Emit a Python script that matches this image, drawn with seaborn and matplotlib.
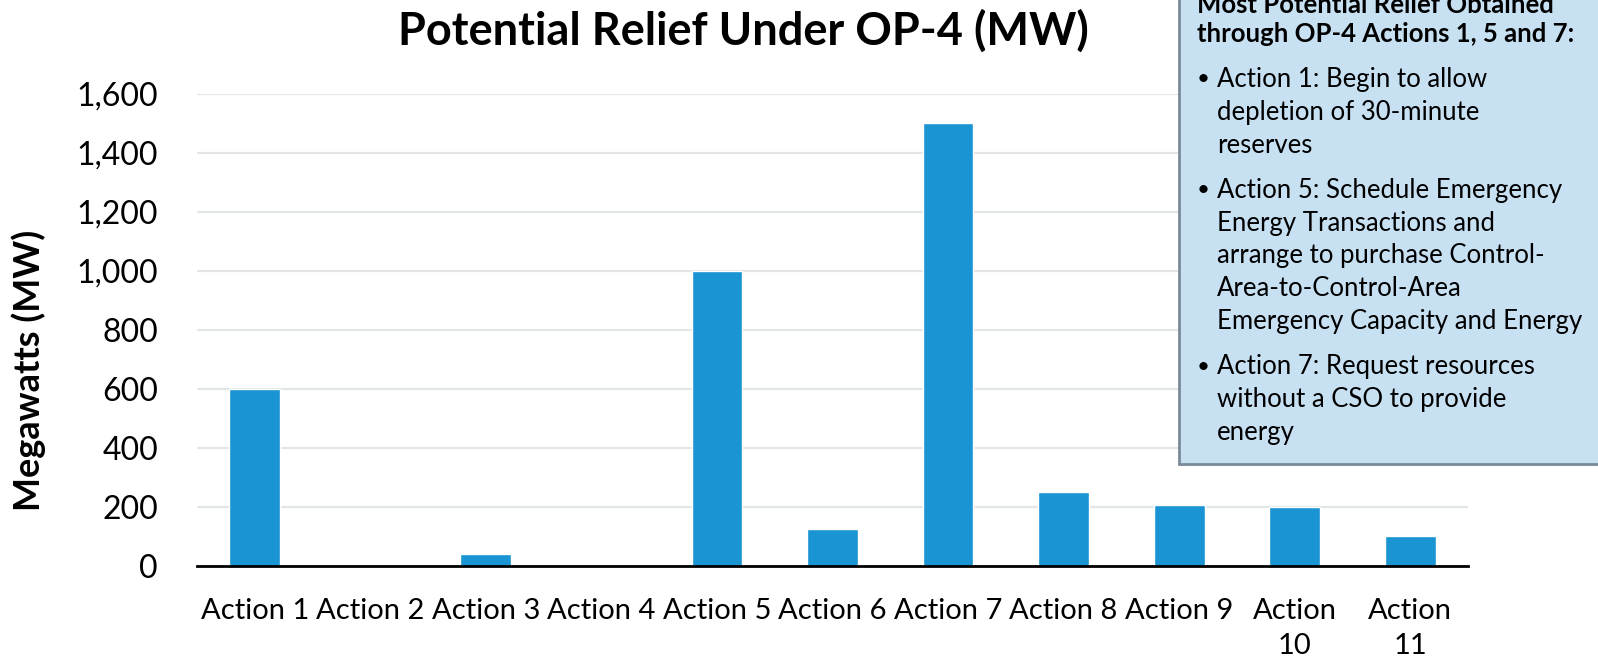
import numpy as np
import pandas as pd
import matplotlib
matplotlib.use("Agg")
import matplotlib.pyplot as plt
from matplotlib.patches import Rectangle
from matplotlib.ticker import FuncFormatter
import seaborn as sns

# data
actions = ["Action 1", "Action 2", "Action 3", "Action 4", "Action 5", "Action 6",
           "Action 7", "Action 8", "Action 9", "Action 10", "Action 11"]
relief_mw = [600, 0, 40, 0, 1000, 125, 1500, 250, 205, 200, 100]
tick_labels = ["Action 1", "Action 2", "Action 3", "Action 4", "Action 5", "Action 6",
               "Action 7", "Action 8", "Action 9", "Action\n10", "Action\n11"]
y_ticks = [0, 200, 400, 600, 800, 1000, 1200, 1400, 1600]

box_header = ["Most Potential Relief Obtained", "through OP-4 Actions 1, 5 and 7:"]
box_bullets = [
    ["Action 1: Begin to allow", "depletion of 30-minute", "reserves"],
    ["Action 5: Schedule Emergency", "Energy Transactions and",
     "arrange to purchase Control-", "Area-to-Control-Area",
     "Emergency Capacity and Energy"],
    ["Action 7: Request resources", "without a CSO to provide", "energy"],
]

df = pd.DataFrame({"action": actions, "mw": relief_mw})

sns.set_style("white")
plt.rcParams['font.family'] = ['Lato', 'DejaVu Sans']
plt.rcParams['text.color'] = 'black'
plt.rcParams['xtick.color'] = 'black'
plt.rcParams['ytick.color'] = 'black'
plt.rcParams['axes.labelcolor'] = 'black'

W, H = 1598, 659
fig = plt.figure(figsize=(W / 100, H / 100), dpi=100)
ax = fig.add_axes([197 / W, 1 - 565.7 / H, (1468 - 197) / W, (565.7 - 93.8) / H])

bar_color = "#1A94D2"
sns.barplot(data=df, x="action", y="mw", color=bar_color, width=0.44,
            saturation=1, ax=ax, zorder=3)

ax.set_ylim(0, 1600)
ax.set_xlim(-0.5, len(actions) - 0.5)
ax.set_yticks(y_ticks)
ax.yaxis.set_major_formatter(FuncFormatter(lambda v, p: f"{int(v):,}"))
ax.set_xticks(range(len(actions)))
ax.set_xticklabels(tick_labels, linespacing=1.45)
ax.grid(axis="y", color="#E3E6E8", linewidth=1.6, zorder=0)
ax.grid(axis="x", visible=False)
for s in ["top", "right", "left"]:
    ax.spines[s].set_visible(False)
ax.spines["bottom"].set_color("black")
ax.spines["bottom"].set_linewidth(2)
ax.spines["bottom"].set_zorder(4)
ax.tick_params(axis="x", length=0, pad=23, labelsize=21)
ax.tick_params(axis="y", length=0, pad=28, labelsize=23)
ax.set_xlabel("")
ax.set_ylabel("Megawatts (MW)", fontsize=26, fontweight="bold")
ax.yaxis.set_label_coords(-0.119, 0.414)

fig.text(0.465, 1 - 31 / H, "Potential Relief Under OP-4 (MW)", ha="center",
         va="center", fontsize=32.5, fontweight="bold")

# callout box in the top right, runs off the figure edge
box = Rectangle((1179 / W, 1 - 464 / H), 0.5, 0.8, transform=fig.transFigure,
                facecolor="#C7E1F3", edgecolor="#7A8A99", linewidth=2,
                clip_on=False, zorder=5)
fig.patches.append(box)

step = 32.8
y = 5.0
for line in box_header:
    fig.text(1197 / W, 1 - y / H, line, ha="left", va="center", fontsize=18.5,
             fontweight="bold", zorder=6)
    y += 28.6
y += 17.3
for para in box_bullets:
    fig.text(1203 / W, 1 - y / H, "•", ha="center", va="center", fontsize=16, zorder=6)
    for line in para:
        fig.text(1217 / W, 1 - y / H, line, ha="left", va="center", fontsize=18.5, zorder=6)
        y += step
    y += 12.5

fig.savefig("out.png", dpi=100)
